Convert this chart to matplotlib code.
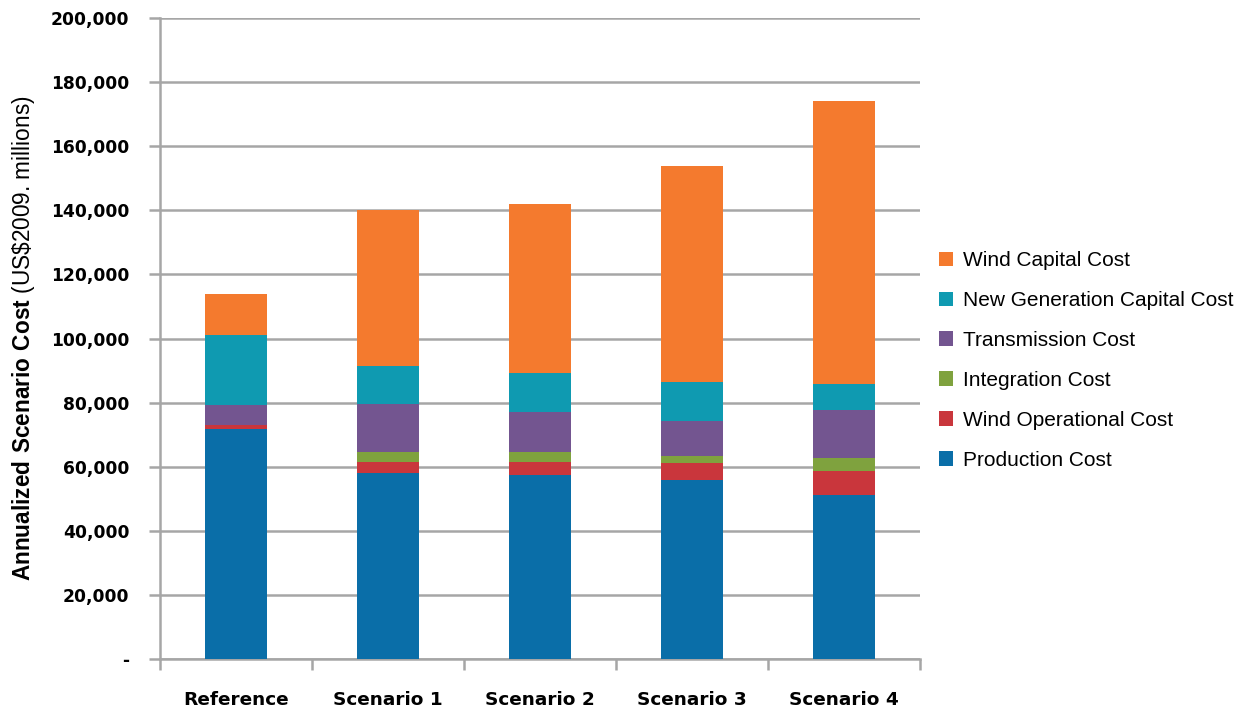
import numpy as np
import matplotlib
matplotlib.use("Agg")
import matplotlib.pyplot as plt
from matplotlib.patches import Patch
from matplotlib.ticker import FuncFormatter

# valeurs (millions US$2009)
scenarios = ["Reference", "Scenario 1", "Scenario 2", "Scenario 3", "Scenario 4"]
production = [71700, 58100, 57300, 55900, 51200]
wind_operational = [1200, 3400, 4200, 5200, 7500]
integration = [0, 3000, 3100, 2200, 3900]
transmission = [6400, 15000, 12600, 11000, 15100]
new_generation = [21800, 11900, 12100, 12200, 8100]
wind_capital = [12800, 48700, 52700, 67300, 88300]

series = [
    ("Production Cost", production, "#0a6ea8"),
    ("Wind Operational Cost", wind_operational, "#c9363c"),
    ("Integration Cost", integration, "#7fa23e"),
    ("Transmission Cost", transmission, "#735590"),
    ("New Generation Capital Cost", new_generation, "#0f9ab1"),
    ("Wind Capital Cost", wind_capital, "#f47a2e"),
]

plt.rcParams["mathtext.fontset"] = "custom"
plt.rcParams["mathtext.bf"] = "Liberation Sans:bold"
plt.rcParams["mathtext.rm"] = "Liberation Sans"

fig = plt.figure(figsize=(12.56, 7.11), dpi=100)
ax = fig.add_axes([0.1274, 0.0731, 0.6051, 0.9016])

x = np.arange(len(scenarios))
bottom = np.zeros(len(scenarios))
for name, vals, color in series:
    ax.bar(x, vals, width=0.41, bottom=bottom, color=color, zorder=3, label=name)
    bottom += np.array(vals)

ax.set_xlim(-0.5, len(scenarios) - 0.5)
ax.set_ylim(0, 200000)
ax.set_yticks(np.arange(0, 200001, 20000))
ax.yaxis.set_major_formatter(FuncFormatter(lambda v, p: "-" if v == 0 else f"{int(v):,}"))
ax.grid(axis="y", color="#a6a6a6", linewidth=1.8, zorder=0)

# ticks
ax.set_xticks(x)
ax.set_xticklabels(scenarios)
ax.set_xticks(np.arange(-0.5, len(scenarios)), minor=True)
ax.tick_params(axis="x", which="major", length=0, pad=23)
ax.tick_params(axis="x", which="minor", length=8, width=1.8, color="#a6a6a6")
ax.tick_params(axis="y", length=8, width=1.8, color="#a6a6a6", pad=14)
for lbl in ax.get_xticklabels():
    lbl.set_fontweight("bold")
    lbl.set_fontsize(13.3)
    lbl.set_family("DejaVu Sans")
for lbl in ax.get_yticklabels():
    lbl.set_fontweight("bold")
    lbl.set_fontsize(12.3)
    lbl.set_family("DejaVu Sans")

for side in ["top", "right"]:
    ax.spines[side].set_visible(False)
for side in ["left", "bottom"]:
    ax.spines[side].set_color("#a6a6a6")
    ax.spines[side].set_linewidth(1.8)

ax.set_ylabel(r"$\bf{Annualized\ Scenario\ Cost}$ (US\$2009. millions)", fontsize=16.3,
              family="Liberation Sans", labelpad=10)

handles = [Patch(facecolor=c, label=n) for n, _, c in reversed(series)]
fig.legend(handles=handles, loc="center left", bbox_to_anchor=(0.7325, 0.493), frameon=False,
           prop={"family": "Liberation Sans", "size": 15}, handlelength=0.7, handleheight=0.7,
           handletextpad=0.45, labelspacing=1.0)

fig.savefig("out.png", dpi=100)
